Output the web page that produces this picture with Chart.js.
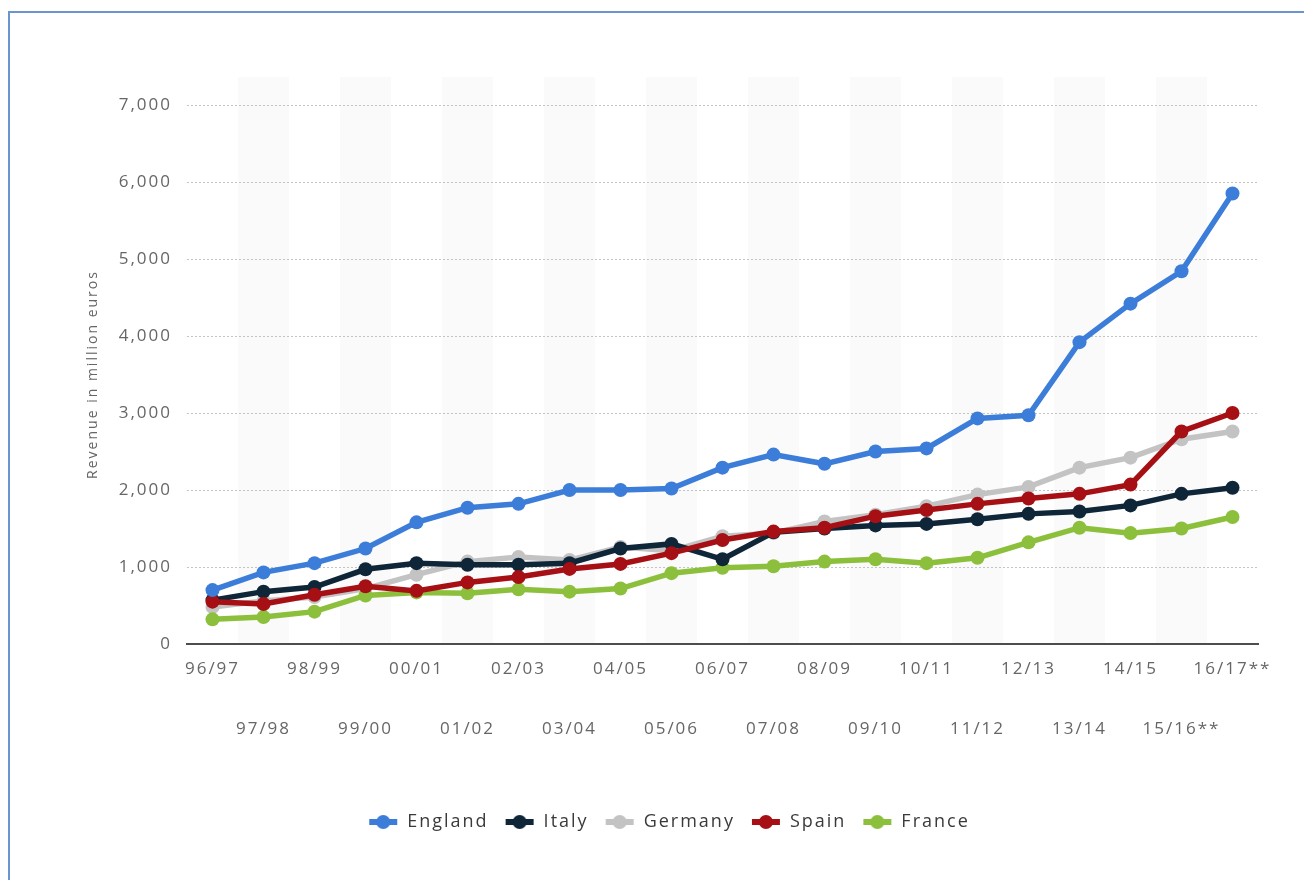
<!DOCTYPE html>
<html>
<head>
<meta charset="utf-8">
<script src="https://cdn.jsdelivr.net/npm/chart.js@4.4.1/dist/chart.umd.min.js"></script>
<style>
  html, body { margin: 0; padding: 0; background: #fff; }
  #wrap { position: relative; width: 1304px; height: 880px; overflow: hidden; }
  #frame { position: absolute; left: 8px; top: 11px; width: 1400px; height: 1000px;
           border: 2px solid #6b95cf; box-sizing: border-box; pointer-events: none; }
  canvas { position: absolute; left: 0; top: 0; }
</style>
</head>
<body>
<div id="wrap">
  <canvas id="chart" width="1304" height="880"></canvas>
  <div id="frame"></div>
</div>
<script>
// Seasons (x axis)
const seasons = ['96/97', '97/98', '98/99', '99/00', '00/01', '01/02', '02/03', '03/04', '04/05', '05/06',
  '06/07', '07/08', '08/09', '09/10', '10/11', '11/12', '12/13', '13/14', '14/15', '15/16**', '16/17**'];

// Revenue in million euros
const england = [700, 930, 1050, 1240, 1580, 1770, 1820, 2000, 2000, 2020, 2290, 2460, 2340, 2500, 2540, 2930, 2970, 3920, 4420, 4840, 5850];
const italy   = [570, 680, 740, 970, 1050, 1030, 1030, 1050, 1240, 1300, 1100, 1450, 1500, 1540, 1560, 1620, 1690, 1720, 1800, 1950, 2030];
const germany = [480, 560, 610, 720, 900, 1070, 1130, 1090, 1260, 1210, 1400, 1440, 1590, 1680, 1790, 1940, 2040, 2290, 2420, 2660, 2760];
const spain   = [550, 520, 640, 750, 690, 800, 870, 975, 1040, 1180, 1350, 1460, 1510, 1660, 1740, 1820, 1890, 1950, 2070, 2760, 3000];
const france  = [320, 350, 420, 630, 670, 660, 710, 680, 720, 920, 990, 1010, 1070, 1100, 1050, 1120, 1320, 1510, 1440, 1500, 1650];

const yTicks = [0, 1000, 2000, 3000, 4000, 5000, 6000, 7000];

const colors = {
  England: '#3b7dd8',
  Italy: '#0f2538',
  Germany: '#c3c3c3',
  Spain: '#a60f14',
  France: '#8cc03c'
};

// little "line + dot" marker for the legend
function legendMarker(color) {
  const c = document.createElement('canvas');
  c.width = 30; c.height = 16;
  const g = c.getContext('2d');
  g.strokeStyle = color;
  g.lineWidth = 6;
  g.beginPath(); g.moveTo(1, 8); g.lineTo(29, 8); g.stroke();
  g.fillStyle = color;
  g.beginPath(); g.arc(15, 8, 7, 0, Math.PI * 2); g.fill();
  return c;
}

function series(name, data, order) {
  return {
    label: name,
    data: data,
    borderColor: colors[name],
    backgroundColor: colors[name],
    pointBackgroundColor: colors[name],
    pointBorderWidth: 0,
    pointRadius: 7,
    pointHoverRadius: 7,
    borderWidth: 5.5,
    tension: 0,
    order: order,
    marker: legendMarker(colors[name])
  };
}

// alternating background bands + letter spacing
const bandsPlugin = {
  id: 'bands',
  beforeLayout(chart) { chart.ctx.letterSpacing = '2px'; },
  beforeDraw(chart) {
    const { ctx, chartArea, scales: { x } } = chart;
    const w = x.getPixelForValue(1) - x.getPixelForValue(0);
    ctx.save();
    ctx.fillStyle = '#fafafa';
    for (let i = 1; i < seasons.length; i += 2) {
      const cx = x.getPixelForValue(i);
      ctx.fillRect(cx - w / 2, chartArea.top - 28, w, chartArea.bottom - chartArea.top + 28);
    }
    ctx.restore();
    ctx.letterSpacing = '2px';
  },
  beforeDatasetsDraw(chart) { chart.ctx.letterSpacing = '2px'; }
};

new Chart(document.getElementById('chart'), {
  type: 'line',
  data: {
    labels: seasons,
    datasets: [
      series('England', england, 0),
      series('Italy', italy, 2),
      series('Germany', germany, 4),
      series('Spain', spain, 1),
      series('France', france, 3)
    ]
  },
  options: {
    responsive: false,
    animation: false,
    events: [],
    layout: { padding: { left: 80, right: 46, top: 105, bottom: 39 } },
    plugins: {
      tooltip: { enabled: false },
      legend: {
        position: 'bottom',
        labels: {
          usePointStyle: true,
          pointStyleWidth: 30,
          padding: 16,
          color: '#3a3a3a',
          font: { family: 'Open Sans', size: 18 },
          sort: (a, b) => a.datasetIndex - b.datasetIndex,
          generateLabels(chart) {
            const items = Chart.defaults.plugins.legend.labels.generateLabels(chart);
            items.forEach(it => { it.pointStyle = chart.data.datasets[it.datasetIndex].marker; });
            return items;
          }
        }
      }
    },
    scales: {
      x: {
        offset: true,
        grid: { display: false, drawTicks: false },
        border: { display: true, color: '#4d4d4d', width: 2 },
        ticks: {
          autoSkip: false,
          maxRotation: 0,
          padding: 10,
          color: '#666',
          font: { family: 'Open Sans', size: 17, lineHeight: '30px' },
          callback: (v, i) => i % 2 === 0 ? seasons[i] : ['', '', seasons[i]]
        },
        afterFit: s => { s.height = 153; }
      },
      y: {
        min: 0,
        max: 7000,
        afterBuildTicks: s => { s.ticks = yTicks.map(v => ({ value: v })); },
        grid: { color: '#c4c4c4', drawTicks: false, lineWidth: 1 },
        border: { display: false, dash: [2, 2] },
        ticks: {
          padding: 15,
          color: '#666',
          font: { family: 'Open Sans', size: 17 },
          callback: v => v.toLocaleString('en-US')
        },
        title: {
          display: true,
          text: 'Revenue in million euros',
          color: '#666',
          padding: 5,
          font: { family: 'Open Sans', size: 14 }
        },
        afterFit: s => { s.width = 107; }
      }
    }
  },
  plugins: [bandsPlugin]
});
</script>
</body>
</html>
